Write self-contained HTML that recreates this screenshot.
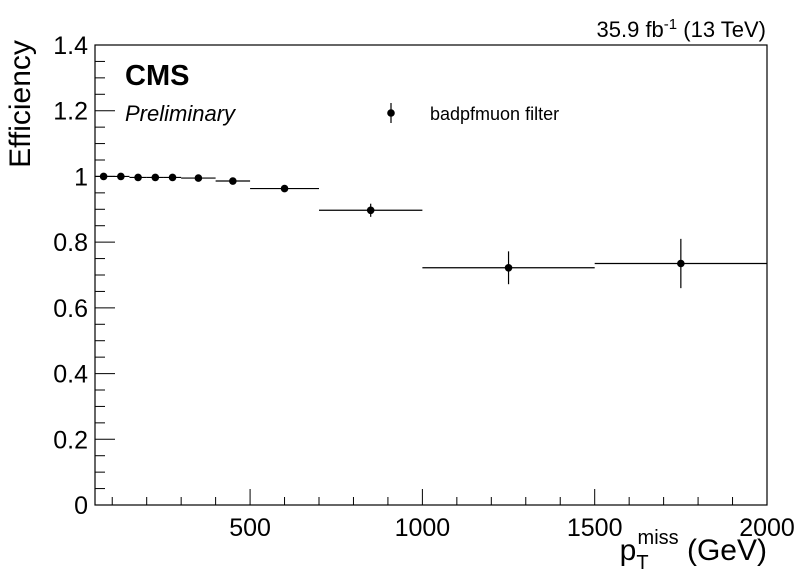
<!DOCTYPE html>
<html><head><meta charset="utf-8"><style>
body{margin:0;background:#fff;}
svg text{font-family:"Liberation Sans",Arial,sans-serif;}
</style></head><body>
<svg id="c" width="798" height="573" viewBox="0 0 798 573">
<rect x="0" y="0" width="798" height="573" fill="#fff"/>
<g id="axes"></g>
<g id="marks"></g>
<text x="766" y="37" font-size="22" text-anchor="end">35.9 fb<tspan dy="-8" font-size="15">-1</tspan><tspan dy="8"> (13 TeV)</tspan></text>
<text x="125" y="85" font-size="29" font-weight="bold">CMS</text>
<text x="125" y="121" font-size="22" font-style="italic">Preliminary</text>
<g>
<line x1="391" y1="103" x2="391" y2="123" stroke="#000" stroke-width="1.2"/>
<circle cx="391" cy="113" r="3.8" fill="#000"/>
<text x="430" y="120" font-size="18">badpfmuon filter</text>
</g>
<text transform="translate(30,104) rotate(-90)" font-size="30" text-anchor="middle">Efficiency</text>
<text x="767" y="560" font-size="30" text-anchor="end">p<tspan dy="9" font-size="20">T</tspan><tspan dx="-11" dy="-25" font-size="20">miss</tspan><tspan dy="16"> (GeV)</tspan></text>
</svg>
<script>
const binLo=[50,100,150,200,250,300,400,500,700,1000,1500];
const binHi=[100,150,200,250,300,400,500,700,1000,1500,2000];
const eff=[1.0,1.0,0.997,0.997,0.997,0.995,0.986,0.963,0.897,0.722,0.735];
const errs=[0.004,0.004,0.004,0.004,0.005,0.005,0.007,0.009,0.02,0.05,0.075];
const xTicks=[500,1000,1500,2000];
const yTicks=[0,0.2,0.4,0.6,0.8,1,1.2,1.4];
const L=95,R=767,T=45,B=505,XMIN=50,XMAX=2000,YMAX=1.4;
const X=v=>L+(v-XMIN)/(XMAX-XMIN)*(R-L);
const Y=v=>B-v/YMAX*(B-T);
const NS='http://www.w3.org/2000/svg';
function mk(p,tag,a){const e=document.createElementNS(NS,tag);for(const k in a)e.setAttribute(k,a[k]);p.appendChild(e);return e;}
const ax=document.getElementById('axes');
const fr=mk(ax,'rect',{x:L,y:T,width:R-L,height:B-T,fill:'none',stroke:'#000','stroke-width':1.2});


for(let v=100;v<=XMAX;v+=100){const maj=v%500===0;mk(ax,'line',{x1:X(v),x2:X(v),y1:B,y2:B-(maj?16:8),stroke:'#000'});}
xTicks.forEach(v=>{const t=mk(ax,'text',{x:X(v),y:B+31,'font-size':25,'text-anchor':'middle'});t.textContent=v;

});
for(let i=0;i<=28;i++){const v=i*0.05;const maj=i%4===0;mk(ax,'line',{x1:L,x2:L+(maj?20:10),y1:Y(v),y2:Y(v),stroke:'#000'});}
yTicks.forEach(v=>{const t=mk(ax,'text',{x:L-7,y:Y(v)+9,'font-size':25,'text-anchor':'end'});t.textContent=String(v);

});
const mg=document.getElementById('marks');
eff.forEach((e,i)=>{const g=mk(mg,'g',{});


const cx=X((binLo[i]+binHi[i])/2),cy=Y(e);
mk(g,'line',{x1:X(binLo[i]),x2:X(binHi[i]),y1:cy,y2:cy,stroke:'#000','stroke-width':1.2});
mk(g,'line',{x1:cx,x2:cx,y1:Y(e-errs[i]),y2:Y(e+errs[i]),stroke:'#000','stroke-width':1.2});
mk(g,'circle',{cx:cx,cy:cy,r:3.8,fill:'#000'});});
</script>
</body></html>
